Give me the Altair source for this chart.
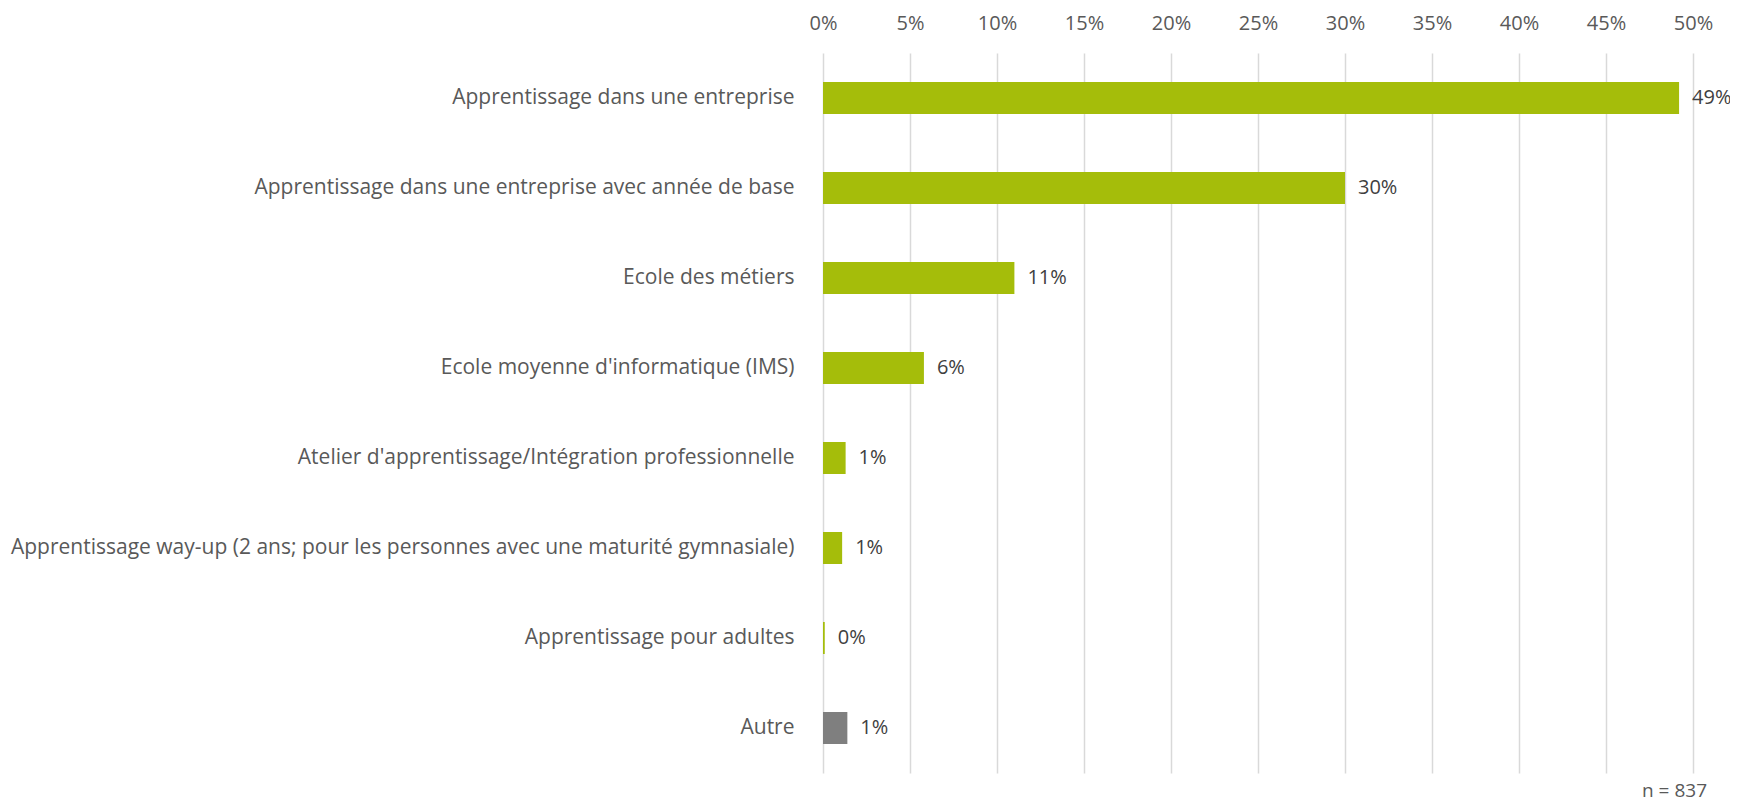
import altair as alt
import pandas as pd

categories = [
    "Apprentissage dans une entreprise",
    "Apprentissage dans une entreprise avec année de base",
    "Ecole des métiers",
    "Ecole moyenne d'informatique (IMS)",
    "Atelier d'apprentissage/Intégration professionnelle",
    "Apprentissage way-up (2 ans; pour les personnes avec une maturité gymnasiale)",
    "Apprentissage pour adultes",
    "Autre",
]
values = [49.2, 30.0, 11.0, 5.8, 1.3, 1.1, 0.1, 1.4]
value_labels = ["49%", "30%", "11%", "6%", "1%", "1%", "0%", "1%"]
groups = ["main", "main", "main", "main", "main", "main", "main", "other"]
x_ticks = [0, 5, 10, 15, 20, 25, 30, 35, 40, 45, 50]

df = pd.DataFrame({"cat": categories, "val": values, "lab": value_labels, "grp": groups})

FONT = "Open Sans"

y_enc = alt.Y(
    "cat:N",
    sort=categories,
    scale=alt.Scale(paddingInner=0.644, paddingOuter=0.322),
    axis=alt.Axis(
        title=None, ticks=False, domain=False, labelPadding=29,
        labelFontSize=21, labelColor="#595959", labelFont=FONT, labelLimit=1000,
    ),
)
x_enc = alt.X(
    "val:Q",
    scale=alt.Scale(domain=[0, 50], nice=False),
    axis=alt.Axis(
        orient="top", title=None, values=x_ticks, labelExpr="datum.value + '%'",
        ticks=False, domain=False, grid=True, gridColor="#D9D9D9", gridWidth=1.5,
        labelFontSize=20, labelColor="#595959", labelFont=FONT, labelPadding=20,
        labelFlush=False,
    ),
)

bars = alt.Chart(df).mark_bar().encode(
    x=x_enc,
    y=y_enc,
    color=alt.Color("grp:N", scale=alt.Scale(domain=["main", "other"], range=["#A5BD0A", "#7F7F7F"]), legend=None),
)
text = alt.Chart(df).mark_text(align="left", dx=13, fontSize=20, font=FONT, color="#404040").encode(
    x="val:Q", y=alt.Y("cat:N", sort=categories), text="lab:N"
)

chart = (bars + text).properties(
    width=870,
    height=720,
    title=alt.TitleParams(
        "n = 837", orient="bottom", anchor="end", align="right", frame="group",
        baseline="top", fontSize=19, font=FONT, color="#595959", fontWeight="normal",
        offset=9, dx=14,
    ),
    autosize=alt.AutoSizeParams(type="none"),
    padding={"left": 815, "top": 45, "right": 37, "bottom": 30},
).configure_view(stroke=None)

chart.save("out.html", embed_options={"renderer": "svg", "actions": False})
